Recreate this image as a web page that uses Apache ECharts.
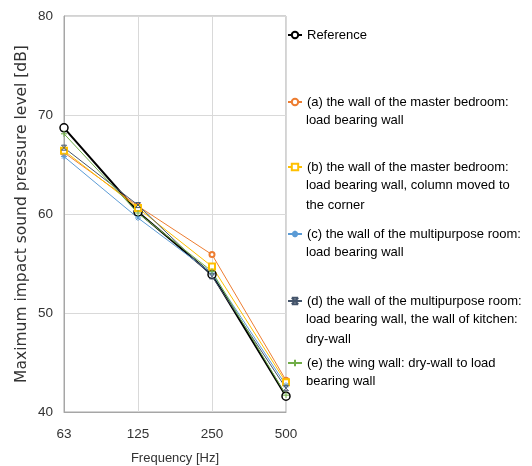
<!DOCTYPE html>
<html>
<head>
<meta charset="utf-8">
<title>Maximum impact sound pressure level</title>
<script src="https://cdn.jsdelivr.net/npm/echarts@6/dist/echarts.min.js"></script>
</head>
<body style="margin:0">
<div id="main" style="width:532px;height:466px;"></div>
<script type="text/javascript">

// frequency bands on the x axis
var frequencies = ['63', '125', '250', '500'];

// values [dB]
var reference = [68.7, 60.2, 53.9, 41.6];
var wallA = [66.2, 60.8, 55.9, 43.2];
var wallB = [66.4, 60.6, 54.7, 43.0];
var wallC = [65.8, 59.6, 54.0, 42.7];
var wallD = [66.7, 60.9, 53.7, 42.4];
var wallE = [68.1, 60.1, 54.2, 41.7];

var yMin = 40;
var yMax = 80;
var yStep = 10;

// legend texts, one entry per printed line
var legendLines = [
  ['Reference'],
  ['(a) the wall of the master bedroom:', 'load bearing wall'],
  ['(b) the wall of the master bedroom:', 'load bearing wall, column moved to', 'the corner'],
  ['(c) the wall of the multipurpose room:', 'load bearing wall'],
  ['(d) the wall of the multipurpose room:', 'load bearing wall, the wall of kitchen:', 'dry-wall'],
  ['(e) the wing wall: dry-wall to load', 'bearing wall']
];

var names = legendLines.map(function (l) { return l.join(' '); });

var legendY = [35, 102, 167, 234, 301, 363];
var lineGap = 20;
var textFont = 'Liberation Sans';

var myChart = echarts.init(document.getElementById('main'));

function lineSeries(idx, data, color, symbol, size, width, fill) {
  return {
    name: names[idx],
    type: 'line',
    data: data,
    symbol: symbol,
    symbolSize: size,
    lineStyle: { color: color, width: width },
    itemStyle: { color: fill || color, borderColor: color, borderWidth: idx === 0 ? 1.5 : 1 },
    emphasis: { disabled: true }
  };
}

var legends = [];
var graphics = [];
legendLines.forEach(function (lines, i) {
  legends.push({
    data: [names[i]],
    orient: 'vertical',
    left: 287,
    top: legendY[i] - 8,
    padding: 0,
    itemWidth: 14,
    itemHeight: 8,
    selectedMode: false,
    formatter: function () { return lines[0]; },
    textStyle: { fontFamily: textFont, fontSize: 13, color: '#000', lineHeight: 16 }
  });
  for (var k = 1; k < lines.length; k++) {
    graphics.push({
      type: 'text',
      left: 306,
      top: legendY[i] + k * lineGap - 8,
      style: { text: lines[k], font: '13px "' + textFont + '"', fill: '#000' }
    });
  }
});

var clear = 'rgba(0,0,0,0)';

myChart.setOption({
  animation: false,
  grid: {
    left: 64, right: 246, top: 16, bottom: 54,
    outerBoundsMode: 'none',
    containLabel: false,
    show: true, borderColor: '#a6a6a6', borderWidth: 1
  },
  legend: legends,
  graphic: graphics,
  xAxis: {
    type: 'category',
    data: frequencies,
    boundaryGap: false,
    name: 'Frequency [Hz]',
    nameLocation: 'middle',
    nameGap: 40,
    nameTextStyle: { fontFamily: textFont, fontSize: 13, color: '#333' },
    axisLine: { lineStyle: { color: '#a6a6a6' } },
    axisTick: { show: false },
    axisLabel: { margin: 15, fontFamily: textFont, fontSize: 13.5, color: '#333' },
    splitLine: { show: true, lineStyle: { color: '#d9d9d9' } }
  },
  yAxis: {
    type: 'value',
    min: yMin,
    max: yMax,
    interval: yStep,
    name: 'Maximum impact sound pressure level [dB]',
    nameLocation: 'middle',
    nameGap: 34,
    nameTextStyle: { fontFamily: 'DejaVu Sans', fontSize: 15.5, color: '#333' },
    axisLine: { show: true, lineStyle: { color: '#a6a6a6' } },
    axisTick: { show: false },
    axisLabel: { margin: 11, fontFamily: textFont, fontSize: 13.5, color: '#333' },
    splitLine: { show: true, lineStyle: { color: '#d9d9d9' } }
  },
  series: [
    lineSeries(0, reference, '#000000', 'circle', 8, 2, '#ffffff'),
    lineSeries(1, wallA, '#ED7D31', 'emptyCircle', 5, 1),
    lineSeries(2, wallB, '#FFC000', 'emptyRect', 6, 1),
    lineSeries(3, wallC, '#5B9BD5', 'path://M0,5L10,5M5,0L5,10M1.5,1.5L8.5,8.5M8.5,1.5L1.5,8.5', 6, 1, clear),
    lineSeries(4, wallD, '#44546A', 'path://M0,0L10,0M0,10L10,10M0,0L10,10M10,0L0,10', 5, 1, clear),
    lineSeries(5, wallE, '#70AD47', 'path://M5,0L5,10M0,5L10,5', 6, 1, clear)
  ]
});
</script>
</body>
</html>
